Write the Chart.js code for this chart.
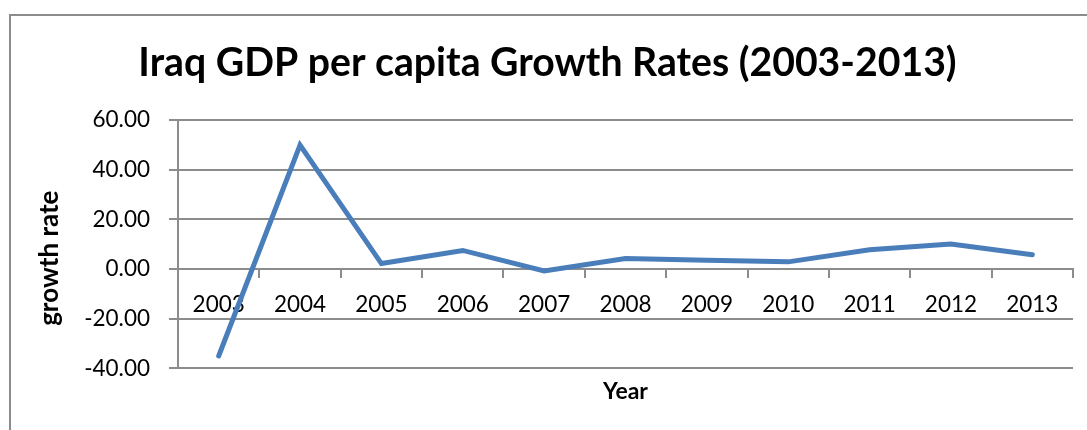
<!DOCTYPE html>
<html>
<head>
<meta charset="utf-8">
<script src="https://cdn.jsdelivr.net/npm/chart.js@4"></script>
<style>
  html, body { margin: 0; padding: 0; background: #ffffff; overflow: hidden; }
  #wrap { position: relative; width: 1087px; height: 430px; overflow: hidden; }
  #frame { position: absolute; left: 9px; top: 14px; width: 1200px; height: 600px;
           border-left: 2px solid #8c8c8c; border-top: 2px solid #8c8c8c; }
  #c { position: absolute; left: 0; top: 0; z-index: 1; }
</style>
</head>
<body>
<div id="wrap">
  <div id="frame"></div>
  <canvas id="c" width="1087" height="430"></canvas>
</div>
<script>
const years = ['2003','2004','2005','2006','2007','2008','2009','2010','2011','2012','2013'];
const growthRate = [-35.0, 49.9, 2.2, 7.5, -0.8, 4.2, 3.5, 2.9, 7.8, 10.1, 5.8];
const yTicks = [-40, -20, 0, 20, 40, 60];
const chartTitle = 'Iraq GDP per capita Growth Rates (2003-2013)';
const yTitle = 'growth rate';
const xTitle = 'Year';

const FONT = 'Lato, "Open Sans", "DejaVu Sans", sans-serif';
const GRID = '#8c8c8c';

// Draws the y-axis title, centred a little below the middle of the plot as in the reference.
const yTitlePlugin = {
  id: 'yTitlePlugin',
  afterDraw(chart) {
    const ctx = chart.ctx;
    const area = chart.chartArea;
    ctx.save();
    ctx.translate(50, (area.top + area.bottom) / 2 + 14);
    ctx.rotate(-Math.PI / 2);
    ctx.fillStyle = '#000000';
    ctx.font = 'bold 26px ' + FONT;
    ctx.textAlign = 'center';
    ctx.textBaseline = 'middle';
    ctx.fillText(yTitle, 0, 0);
    ctx.restore();
  }
};

new Chart(document.getElementById('c'), {
  type: 'line',
  data: {
    labels: years,
    datasets: [{
      label: yTitle,
      data: growthRate,
      borderColor: '#4a7ebb',
      backgroundColor: '#4a7ebb',
      borderWidth: 5,
      pointRadius: 0,
      pointHoverRadius: 0,
      tension: 0,
      borderCapStyle: 'round',
      borderJoinStyle: 'miter',
      clip: false
    }]
  },
  plugins: [yTitlePlugin],
  options: {
    responsive: false,
    animation: false,
    devicePixelRatio: 1,
    layout: { padding: { left: 22, right: 14, top: 0, bottom: 0 } },
    plugins: {
      legend: { display: false },
      tooltip: { enabled: false },
      title: {
        display: true,
        text: chartTitle,
        color: '#000000',
        font: { family: FONT, size: 39.2, weight: 'bold' },
        padding: { top: 39.5, bottom: 33.5 }
      }
    },
    scales: {
      x: {
        type: 'category',
        position: { y: 0 },
        offset: true,
        grid: {
          offset: true,
          drawOnChartArea: false,
          drawTicks: true,
          tickLength: 8,
          color: GRID,
          lineWidth: 2
        },
        border: { display: true, color: GRID, width: 2 },
        ticks: {
          color: '#000000',
          font: { family: FONT, size: 22.5 },
          padding: 14,
          maxRotation: 0,
          autoSkip: false
        }
      },
      x2: {
        type: 'category',
        position: 'bottom',
        grid: { display: false, drawTicks: false },
        border: { display: false },
        ticks: { display: false },
        title: {
          display: true,
          text: xTitle,
          color: '#000000',
          font: { family: FONT, size: 23, weight: 'bold' },
          padding: { top: 9, bottom: 25 }
        }
      },
      y: {
        type: 'linear',
        position: 'left',
        min: yTicks[0],
        max: yTicks[yTicks.length - 1],
        afterBuildTicks: (scale) => { scale.ticks = yTicks.map(v => ({ value: v })); },
        afterFit: (scale) => { scale.width = 156; },
        grid: {
          color: GRID,
          lineWidth: 2,
          drawTicks: true,
          tickLength: 9
        },
        border: { display: true, color: GRID, width: 2 },
        ticks: {
          color: '#000000',
          font: { family: FONT, size: 22.5 },
          padding: 19,
          callback: (v) => Number(v).toFixed(2)
        },
        title: { display: false, text: yTitle }
      }
    }
  }
});
</script>
</body>
</html>
